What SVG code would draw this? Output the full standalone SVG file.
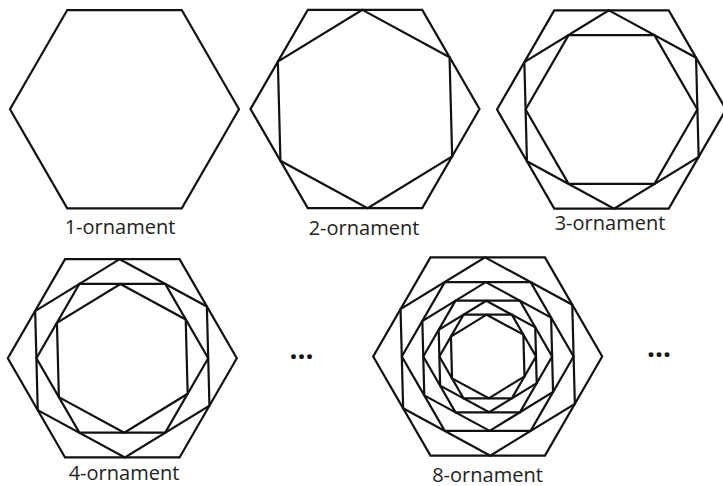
<svg xmlns="http://www.w3.org/2000/svg" xmlns:xlink="http://www.w3.org/1999/xlink" width="723" height="486" viewBox="0 0 723 486">
<style>
.hex{fill:none;stroke:#111;stroke-width:2.2;stroke-linejoin:miter}
.lbl{font-family:"Open Sans","Liberation Sans",sans-serif;font-size:20px;fill:#222;text-anchor:middle}
.dots{font-family:"Open Sans","Liberation Sans",sans-serif;font-size:28px;font-weight:bold;fill:#111;text-anchor:middle}
</style>
<defs>
<polygon id="h0" class="hex" points="114.5,0 57.25,99.16 -57.25,99.16 -114.5,0 -57.25,-99.16 57.25,-99.16"/>
<polygon id="h1" class="hex" transform="rotate(-1.5)" points="0,-99.16 85.88,-49.58 85.88,49.58 0,99.16 -85.88,49.58 -85.88,-49.58"/>
<polygon id="h2" class="hex" points="85.88,0 42.94,74.37 -42.94,74.37 -85.88,0 -42.94,-74.37 42.94,-74.37"/>
<polygon id="h3" class="hex" transform="rotate(-1.5)" points="0,-74.37 64.41,-37.19 64.41,37.19 0,74.37 -64.41,37.19 -64.41,-37.19"/>
<polygon id="h4" class="hex" points="64.41,0 32.2,55.78 -32.2,55.78 -64.41,0 -32.2,-55.78 32.2,-55.78"/>
<polygon id="h5" class="hex" transform="rotate(-1.5)" points="0,-55.78 48.3,-27.89 48.3,27.89 0,55.78 -48.3,27.89 -48.3,-27.89"/>
<polygon id="h6" class="hex" points="48.3,0 24.15,41.83 -24.15,41.83 -48.3,0 -24.15,-41.83 24.15,-41.83"/>
<polygon id="h7" class="hex" transform="rotate(-1.5)" points="0,-41.83 36.23,-20.92 36.23,20.92 0,41.83 -36.23,20.92 -36.23,-20.92"/>
</defs>
<g id="ornament-1" transform="translate(124.5,109.2)">
<use xlink:href="#h0"/>
</g>
<g id="ornament-2" transform="translate(365,109)">
<use xlink:href="#h0"/><use xlink:href="#h1"/>
</g>
<g id="ornament-3" transform="translate(611.5,109.5)">
<use xlink:href="#h0"/><use xlink:href="#h1"/><use xlink:href="#h2"/>
</g>
<g id="ornament-4" transform="translate(122.3,358.3)">
<use xlink:href="#h0"/><use xlink:href="#h1"/><use xlink:href="#h2"/><use xlink:href="#h3"/>
</g>
<g id="ornament-8" transform="translate(487.7,356.5)">
<use xlink:href="#h0"/><use xlink:href="#h1"/><use xlink:href="#h2"/><use xlink:href="#h3"/>
<use xlink:href="#h4"/><use xlink:href="#h5"/><use xlink:href="#h6"/><use xlink:href="#h7"/>
</g>
<g id="connectors"></g>
<g id="labels">
<text class="lbl" x="120" y="234">1-ornament</text>
<text class="lbl" x="364" y="235">2-ornament</text>
<text class="lbl" x="610" y="230">3-ornament</text>
<text class="lbl" x="124" y="480">4-ornament</text>
<text class="lbl" x="487.5" y="481.5">8-ornament</text>
<text class="dots" x="301.5" y="359">...</text>
<text class="dots" x="659" y="357">...</text>
</g>
</svg>
